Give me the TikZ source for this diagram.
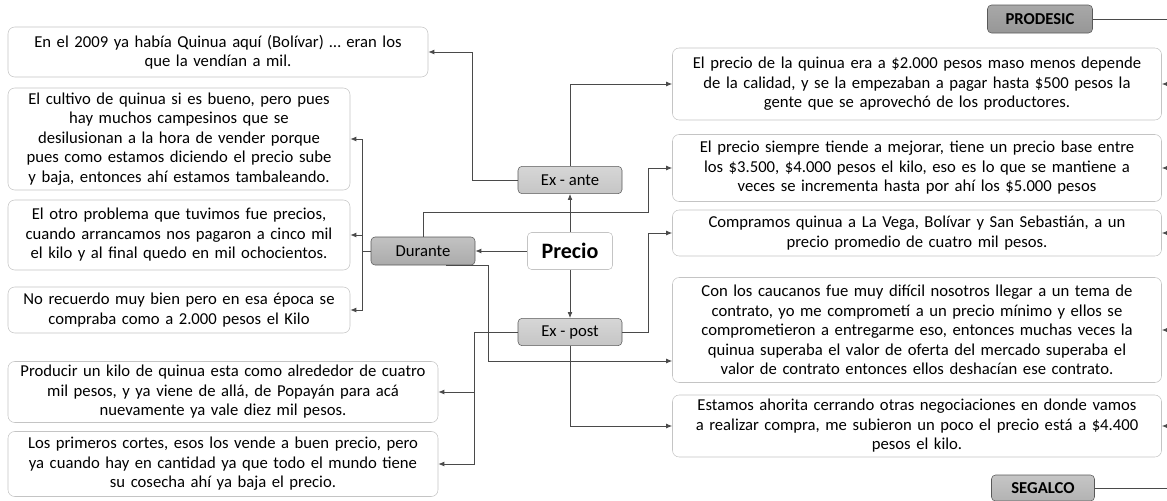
\documentclass[tikz,border=0pt]{standalone}
\usepackage{fontspec}
\setmainfont{Carlito}
\usetikzlibrary{arrows.meta,calc}

\definecolor{linea}{HTML}{4A4A4A}
\definecolor{borde}{HTML}{C4C4C4}

\begin{document}
\begin{tikzpicture}[x=0.75pt,y=-0.75pt,
  caja/.style={draw=borde, rounded corners=5pt, fill=white, align=center,
    inner sep=2pt, font=\fontsize{12.5}{14.6}\selectfont},
  etapa/.style={draw=gray!70!black, rounded corners=3pt, align=center,
    minimum width=78pt, minimum height=20.5pt, inner sep=1pt,
    font=\fontsize{12.5}{14}\selectfont},
  actor/.style={etapa, font=\fontsize{12.5}{14}\selectfont\bfseries},
  flecha/.style={draw=linea, line width=0.6pt, -{Latex[length=4.5pt,width=3.6pt]}},
  tramo/.style={draw=linea, line width=0.6pt}]
\useasboundingbox (0,0) rectangle (1167,500);
\coordinate (lado) at (1167,0);

% centro
\node[caja, rounded corners=3pt, minimum width=63.75pt, minimum height=27.75pt,
  font=\fontsize{16.5}{18}\selectfont\bfseries] (precio) at (570,251) {Precio};
\node[etapa, top color=gray!32, bottom color=gray!45] (exante) at (570,180) {Ex - ante};
\node[etapa, top color=gray!32, bottom color=gray!45] (expost) at (570,332) {Ex - post};
\node[etapa, top color=gray!48, bottom color=gray!66, minimum height=21pt] (durante) at (423,251) {Durante};

\node[actor, minimum width=78.75pt, minimum height=21pt, top color=gray!68, bottom color=gray!82] (prodesic) at (1040,19) {PRODESIC};
\node[actor, minimum width=77.25pt, minimum height=19.5pt, top color=gray!45, bottom color=gray!60] (segalco) at (1043,488) {SEGALCO};

% izquierda
\node[caja, text width=311pt, minimum height=37.5pt] (b1) at (218,52)
  {En el 2009 ya había Quinua aquí (Bolívar) … eran los\\ que la vendían a mil.};
\node[caja, text width=252.5pt, minimum height=76.5pt] (b2) at (179,139)
  {El cultivo de quinua si es bueno, pero pues\\ hay muchos campesinos que se\\ desilusionan a la hora de vender porque\\ pues como estamos diciendo el precio sube\\ y baja, entonces ahí estamos tambaleando.};
\node[caja, text width=252.5pt, minimum height=52.5pt] (b3) at (179,235)
  {El otro problema que tuvimos fue precios,\\ cuando arrancamos nos pagaron a cinco mil\\ el kilo y al final quedo en mil ochocientos.};
\node[caja, text width=252.5pt, minimum height=34.5pt] (b4) at (179,310)
  {No recuerdo muy bien pero en esa época se\\ compraba como a 2.000 pesos el Kilo};
\node[caja, text width=318.5pt, minimum height=45.75pt] (b5) at (223,392)
  {Producir un kilo de quinua esta como alrededor de cuatro\\ mil pesos, y ya viene de allá, de Popayán para acá\\ nuevamente ya vale diez mil pesos.};
\node[caja, text width=318.5pt, minimum height=48.75pt] (b6) at (223,464)
  {Los primeros cortes, esos los vende a buen precio, pero\\ ya cuando hay en cantidad ya que todo el mundo tiene\\ su cosecha ahí ya baja el precio.};

% derecha
\node[caja, text width=362.75pt, minimum height=54pt] (r1) at (917,84)
  {El precio de la quinua era a \$2.000 pesos maso menos depende\\ de la calidad, y se la empezaban a pagar hasta \$500 pesos la\\ gente que se aprovechó de los productores.};
\node[caja, text width=362.75pt, minimum height=50.25pt] (r2) at (917,168)
  {El precio siempre tiende a mejorar, tiene un precio base entre\\ los \$3.500, \$4.000 pesos el kilo, eso es lo que se mantiene a\\ veces se incrementa hasta por ahí los \$5.000 pesos};
\node[caja, text width=362.75pt, minimum height=34.5pt] (r3) at (917,233)
  {Compramos quinua a La Vega, Bolívar y San Sebastián, a un\\ precio promedio de cuatro mil pesos.};
\node[caja, text width=362.75pt, minimum height=78.75pt] (r4) at (917,330)
  {Con los caucanos fue muy difícil nosotros llegar a un tema de\\ contrato, yo me comprometí a un precio mínimo y ellos se\\ comprometieron a entregarme eso, entonces muchas veces la\\ quinua superaba el valor de oferta del mercado superaba el\\ valor de contrato entonces ellos deshacían ese contrato.};
\node[caja, text width=362.75pt, minimum height=46.5pt] (r5) at (917,426)
  {Estamos ahorita cerrando otras negociaciones en donde vamos\\ a realizar compra, me subieron un poco el precio está a \$4.400\\ pesos el kilo.};

% conectores
\draw[flecha] (precio) -- (exante);
\draw[flecha] (precio) -- (expost);
\draw[flecha] (precio) -- (durante);

\draw[flecha] (exante.west) -- ++(-45,0) |- (b1.east);
\draw[flecha] (exante.north) |- (r1.west);

\foreach \b in {b2,b3,b4}
  \draw[flecha] (durante.west) -- ++(-8,0) |- (\b.east);
\draw[flecha] (durante.north) |- ($(r2.west)+(-24,44)$) |- (r2.west);
\draw[flecha] ($(durante.south)+(23,0)$) -- ++(42,0) |- ($(r4.west)+(0,31)$);

\foreach \b in {b5,b6}
  \draw[flecha] (expost.west) -- ++(-43,0) |- (\b.east);
\draw[flecha] (expost.east) -- ++(26,0) |- (r3.west);
\draw[flecha] (expost.south) |- (r5.west);

% lado derecho (fuera del cuadro)
\foreach \r in {r1,r2,r3,r4,r5}
  \draw[flecha] (\r.east -| lado) -- (\r.east);
\draw[tramo] (prodesic.east) -- (prodesic.east -| lado);
\draw[tramo] (segalco.east) -- (segalco.east -| lado);
\end{tikzpicture}
\end{document}
